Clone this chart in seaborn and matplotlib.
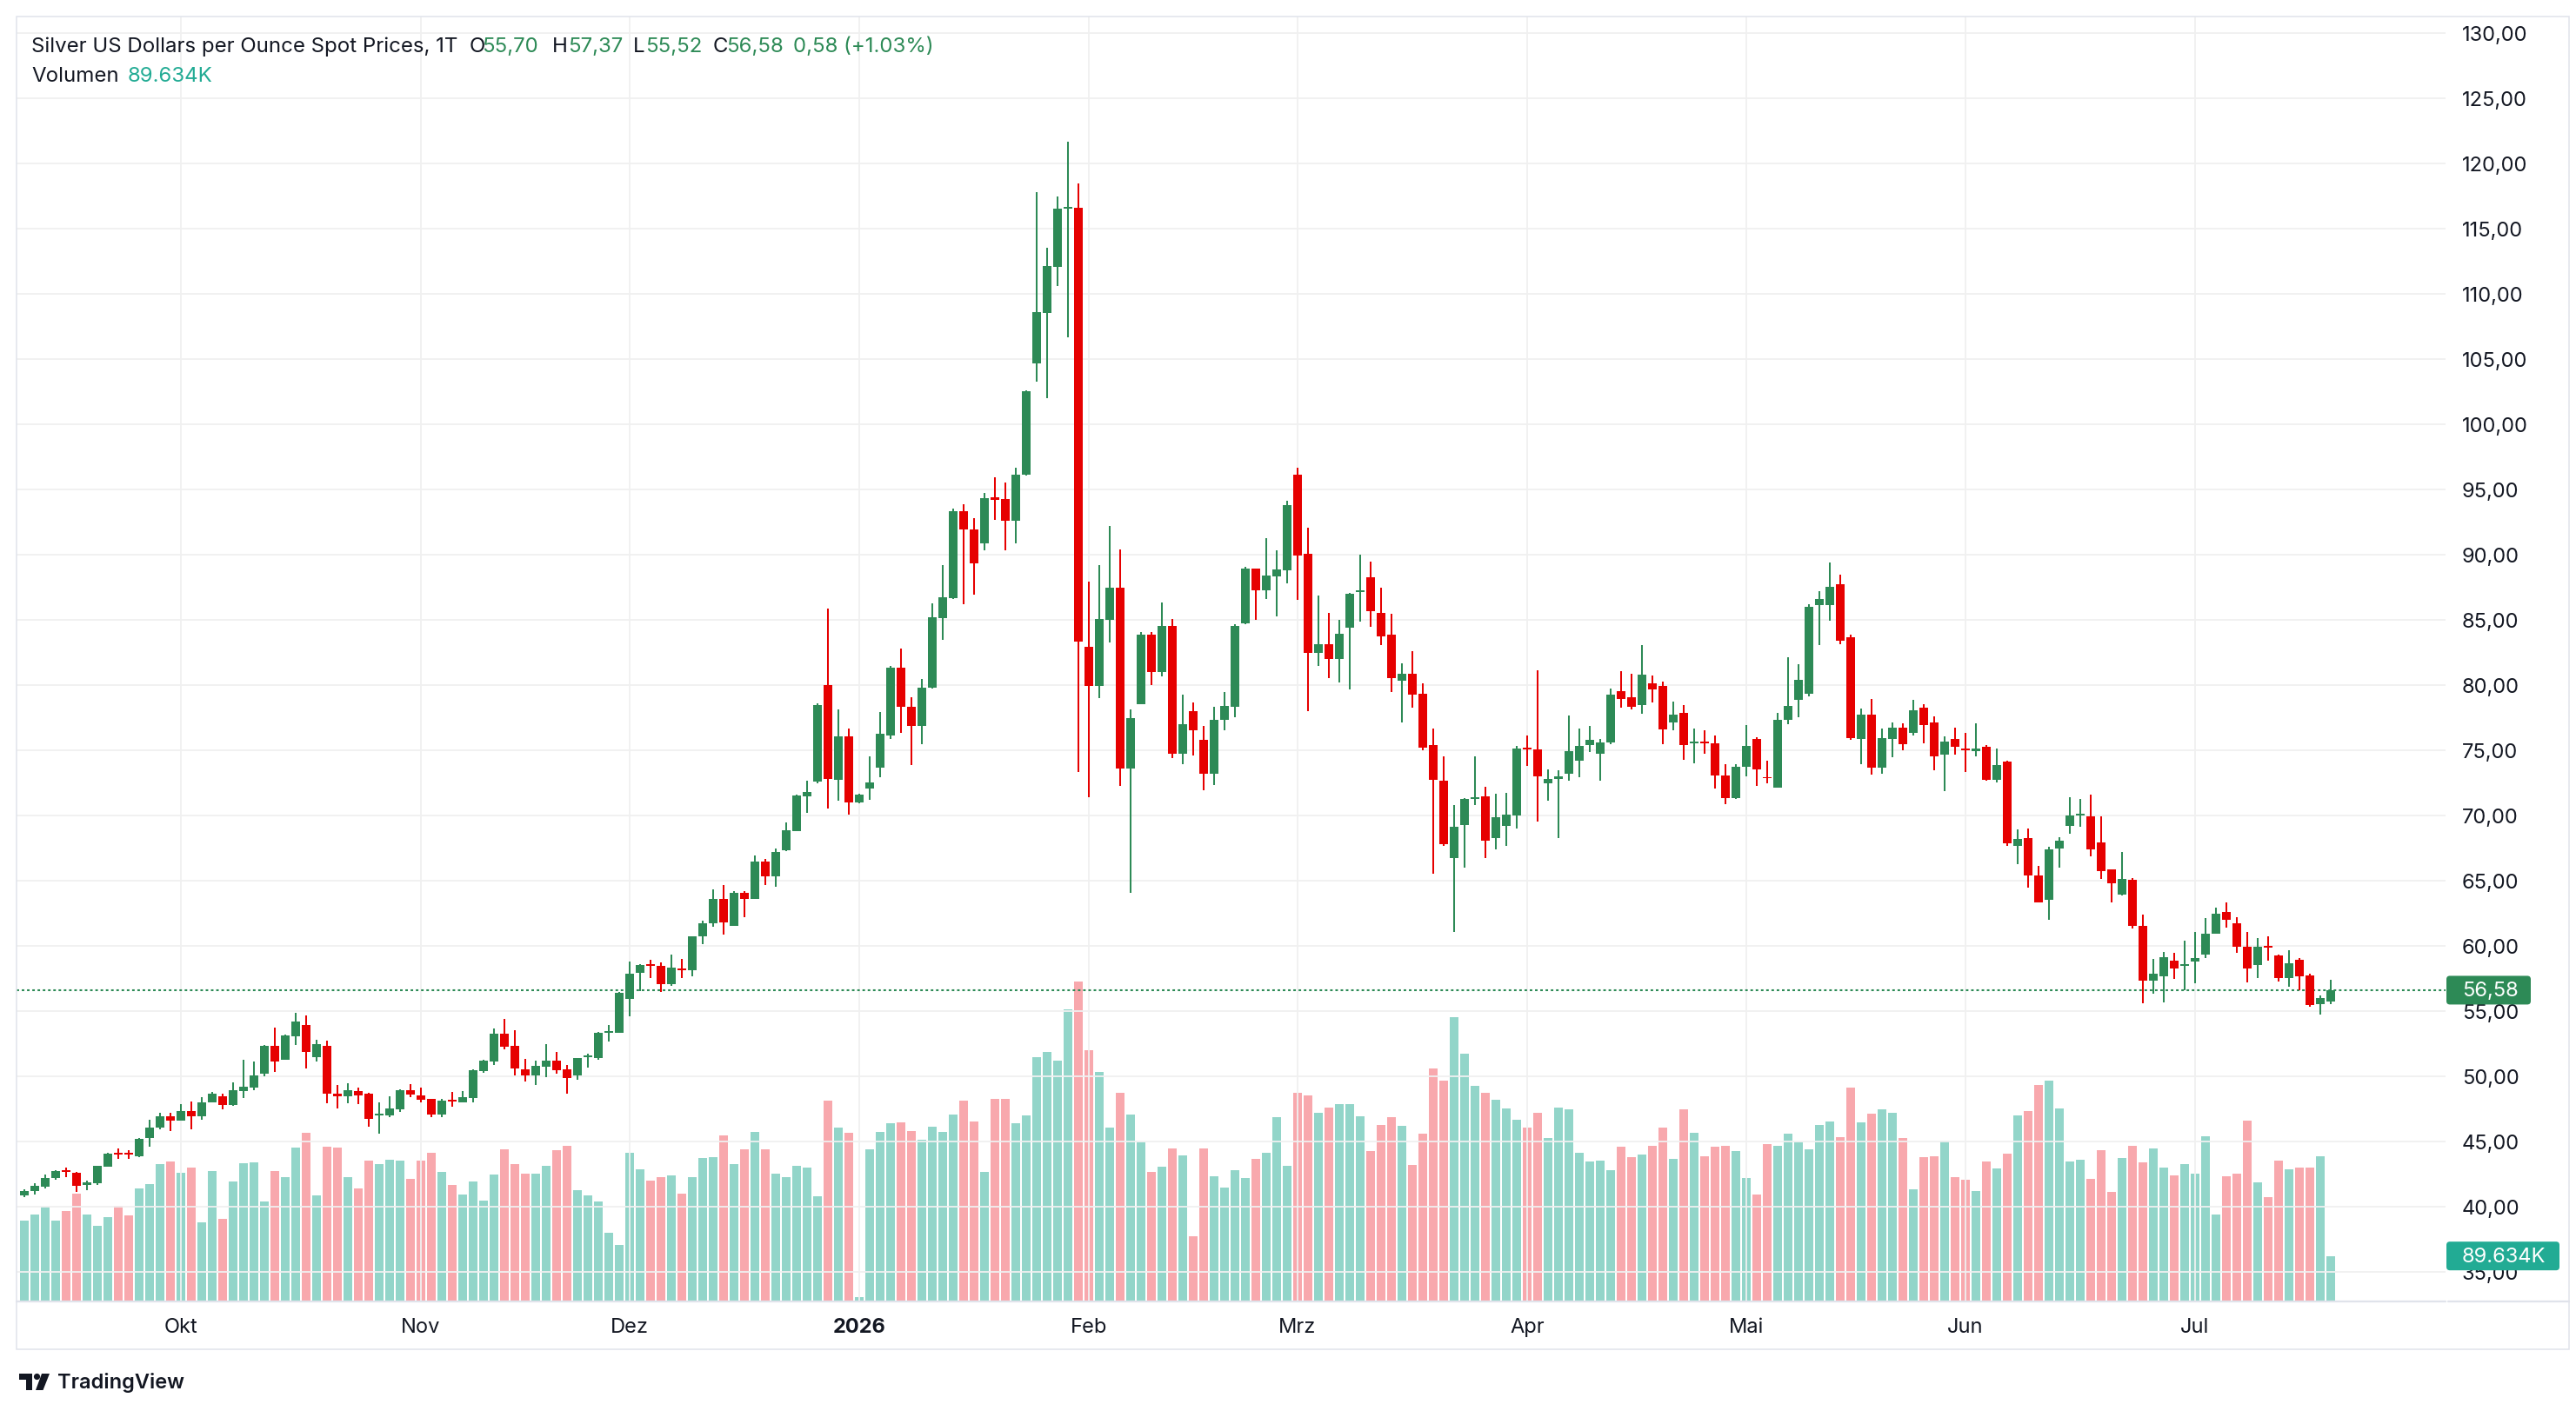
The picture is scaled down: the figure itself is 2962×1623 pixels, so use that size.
import numpy as np
import pandas as pd
import matplotlib
matplotlib.use("Agg")
import matplotlib.pyplot as plt
from matplotlib.patches import FancyBboxPatch, Rectangle, Polygon, Circle
import seaborn as sns

# daily OHLC, silver spot, one bar per trading day (mid Sep 2025 .. mid Jul 2026)
opens = [
    40.84, 41.20, 41.53, 42.20, 42.78, 42.58, 41.67, 41.78, 43.04, 44.11,
    44.11, 43.84, 45.24, 46.04, 46.91, 46.58, 47.31, 46.91, 47.98, 48.44,
    47.78, 48.84, 49.11, 50.18, 52.31, 51.24, 53.04, 53.91, 51.44, 52.31,
    48.64, 48.44, 48.84, 48.64, 46.98, 46.98, 47.44, 48.91, 48.51, 48.24,
    47.04, 48.18, 47.98, 48.31, 50.38, 51.11, 53.24, 52.31, 50.51, 50.04,
    50.71, 51.18, 50.51, 50.04, 51.44, 51.38, 53.31, 53.31, 55.94, 57.88,
    58.59, 58.46, 57.01, 58.26, 58.08, 60.69, 61.70, 63.55, 61.50, 64.02,
    63.55, 66.43, 65.29, 67.30, 68.79, 71.45, 72.59, 79.96, 72.72, 76.07,
    70.98, 72.05, 73.66, 76.14, 81.29, 78.28, 76.81, 79.79, 85.14, 86.63,
    93.30, 91.91, 90.82, 94.40, 94.22, 92.55, 96.10, 104.61, 108.51, 112.06,
    116.52, 116.60, 82.94, 79.89, 85.00, 87.45, 73.55, 78.51, 83.83, 80.96,
    84.50, 74.68, 78.00, 75.79, 73.19, 77.28, 78.34, 84.70, 88.91, 87.25,
    88.32, 88.79, 96.14, 90.05, 82.43, 83.14, 81.96, 84.38, 87.13, 88.24,
    85.54, 83.81, 80.30, 80.87, 79.33, 75.40, 72.65, 66.71, 69.26, 71.26,
    71.45, 68.26, 69.20, 70.00, 75.20, 75.07, 72.41, 72.75, 73.15, 74.15,
    75.36, 74.69, 75.56, 79.49, 79.02, 78.44, 80.09, 79.89, 77.10, 77.81,
    75.51, 75.60, 75.54, 73.06, 71.29, 73.68, 75.87, 72.92, 72.14, 77.30,
    78.84, 79.29, 86.10, 86.10, 87.71, 83.63, 75.84, 77.68, 73.63, 75.84,
    76.68, 76.30, 78.22, 77.08, 74.63, 75.81, 75.08, 74.90, 75.23, 72.70,
    74.10, 67.62, 68.26, 65.39, 63.54, 67.42, 69.15, 69.96, 69.93, 67.88,
    65.84, 63.91, 65.03, 61.54, 57.34, 57.61, 58.86, 58.43, 58.75, 59.28,
    60.89, 62.55, 61.74, 59.93, 58.48, 60.00, 59.26, 57.54, 58.93, 57.72,
    55.53, 55.70,
]
highs = [
    41.31, 41.78, 42.44, 42.78, 42.98, 42.64, 41.98, 43.11, 44.11, 44.44,
    44.31, 45.24, 46.64, 47.18, 47.18, 47.84, 48.04, 48.38, 48.78, 48.64,
    49.51, 51.24, 51.11, 52.38, 53.71, 53.18, 54.84, 54.64, 52.78, 52.71,
    49.31, 49.44, 49.11, 48.71, 47.98, 48.44, 48.98, 49.38, 49.11, 48.24,
    48.24, 48.78, 48.84, 50.51, 51.24, 53.64, 54.38, 53.51, 51.31, 51.18,
    52.44, 51.84, 50.84, 51.38, 51.71, 53.38, 53.91, 56.47, 58.79, 58.59,
    58.93, 58.73, 59.33, 59.00, 60.74, 61.94, 64.29, 64.62, 64.15, 64.15,
    66.90, 66.63, 67.43, 69.44, 71.58, 72.66, 78.55, 85.85, 78.08, 76.67,
    71.65, 74.53, 77.88, 81.43, 82.77, 79.02, 80.46, 86.24, 89.15, 93.48,
    93.87, 92.80, 94.68, 95.89, 95.53, 96.63, 102.59, 117.80, 113.51, 117.45,
    121.67, 118.44, 87.91, 89.18, 92.20, 90.39, 78.12, 84.04, 84.07, 86.31,
    85.04, 79.26, 78.66, 76.86, 78.32, 79.46, 84.63, 89.03, 88.91, 91.24,
    90.30, 94.11, 96.61, 92.05, 86.83, 85.54, 84.95, 87.03, 89.98, 89.43,
    87.43, 85.42, 81.63, 82.55, 80.12, 76.66, 74.50, 70.77, 71.31, 74.50,
    72.19, 71.65, 71.72, 75.33, 76.14, 81.09, 73.53, 73.46, 77.61, 76.61,
    76.81, 75.87, 79.69, 81.03, 80.83, 83.04, 80.69, 80.22, 78.68, 78.42,
    76.67, 76.54, 76.14, 73.93, 73.93, 76.94, 76.00, 74.20, 77.81, 82.10,
    81.56, 86.17, 87.17, 89.38, 88.44, 83.83, 78.15, 78.89, 76.61, 77.08,
    77.02, 78.82, 78.49, 77.55, 76.01, 76.68, 76.28, 77.02, 75.37, 75.10,
    74.16, 68.93, 69.00, 66.12, 67.59, 68.33, 71.36, 71.23, 71.56, 69.89,
    65.84, 67.18, 65.17, 62.35, 58.99, 59.53, 59.46, 60.40, 61.01, 62.08,
    62.89, 63.29, 62.15, 61.01, 60.60, 60.74, 59.33, 59.66, 59.06, 57.85,
    56.20, 57.37,
]
lows = [
    40.71, 40.91, 41.38, 42.04, 42.24, 41.11, 41.24, 41.64, 43.04, 43.64,
    43.64, 43.78, 44.58, 45.91, 45.78, 46.58, 45.91, 46.64, 47.98, 47.44,
    47.71, 48.31, 48.91, 49.98, 50.31, 51.24, 52.38, 50.58, 51.11, 47.91,
    47.51, 47.91, 47.84, 46.11, 45.58, 46.84, 47.24, 48.38, 47.98, 46.84,
    46.84, 47.64, 47.98, 47.98, 50.24, 50.84, 52.04, 50.04, 49.58, 49.31,
    49.91, 50.18, 48.64, 49.71, 50.64, 51.24, 52.67, 53.31, 54.60, 56.52,
    57.54, 56.47, 56.88, 57.48, 57.61, 60.09, 61.43, 60.83, 61.50, 62.17,
    63.55, 64.62, 64.49, 67.23, 68.79, 70.18, 72.46, 70.51, 71.12, 70.04,
    70.92, 71.18, 72.92, 75.87, 76.34, 73.86, 75.46, 79.72, 83.44, 86.56,
    86.20, 86.88, 90.32, 92.62, 90.32, 90.82, 96.03, 103.26, 101.95, 110.60,
    106.63, 73.33, 71.38, 78.97, 83.26, 72.27, 64.07, 78.51, 79.96, 80.64,
    74.40, 73.94, 74.60, 71.93, 72.33, 76.49, 77.48, 84.65, 84.98, 86.56,
    85.25, 87.80, 86.51, 77.95, 81.44, 80.50, 80.15, 79.63, 84.85, 84.43,
    83.04, 79.43, 77.08, 78.22, 75.00, 65.50, 67.65, 61.01, 65.97, 70.77,
    66.70, 67.39, 67.66, 69.00, 73.75, 69.53, 71.14, 68.26, 72.61, 72.88,
    74.82, 72.61, 75.42, 78.24, 78.10, 77.77, 78.64, 75.42, 76.50, 74.22,
    73.95, 74.69, 72.01, 70.87, 71.23, 72.95, 72.21, 72.41, 72.14, 76.96,
    77.51, 79.11, 83.03, 84.90, 83.12, 75.77, 73.90, 73.10, 73.16, 74.43,
    74.97, 76.10, 75.50, 73.43, 71.83, 74.63, 73.30, 74.50, 72.63, 72.49,
    67.62, 66.21, 64.41, 63.34, 61.98, 65.95, 68.55, 69.09, 66.82, 65.08,
    63.31, 63.85, 61.30, 55.59, 56.33, 55.66, 57.41, 56.60, 57.14, 59.02,
    60.89, 61.36, 59.42, 57.20, 57.54, 58.81, 57.27, 56.87, 56.60, 55.32,
    54.72, 55.52,
]
closes = [
    41.18, 41.58, 42.18, 42.71, 42.67, 41.58, 41.84, 43.11, 44.04, 43.98,
    43.98, 45.18, 46.04, 46.91, 46.58, 47.31, 46.91, 47.98, 48.64, 47.78,
    48.91, 49.18, 50.04, 52.31, 51.11, 53.11, 54.18, 51.84, 52.44, 48.64,
    48.44, 48.91, 48.51, 46.71, 47.11, 47.51, 48.91, 48.58, 48.18, 47.04,
    48.11, 48.04, 48.38, 50.44, 51.18, 53.24, 52.24, 50.58, 50.04, 50.78,
    51.18, 50.44, 49.84, 51.38, 51.58, 53.31, 53.40, 56.36, 57.86, 58.53,
    58.46, 57.01, 58.33, 58.08, 60.74, 61.74, 63.55, 61.76, 64.02, 63.55,
    66.43, 65.29, 67.17, 68.84, 71.52, 71.79, 78.42, 72.79, 76.07, 70.98,
    71.58, 72.52, 76.21, 81.29, 78.28, 76.81, 79.79, 85.18, 86.70, 93.30,
    91.88, 89.29, 94.33, 94.18, 92.55, 96.13, 102.52, 108.55, 112.09, 116.52,
    116.60, 83.33, 79.89, 85.04, 87.45, 73.55, 77.45, 83.83, 80.96, 84.50,
    74.68, 76.98, 76.49, 73.19, 77.33, 78.39, 84.48, 88.91, 87.25, 88.37,
    88.84, 93.79, 89.93, 82.43, 83.14, 81.96, 83.89, 86.96, 87.25, 85.64,
    83.71, 80.50, 80.87, 79.23, 75.20, 72.72, 67.77, 69.08, 71.26, 71.31,
    68.06, 69.84, 70.04, 75.13, 75.04, 72.95, 72.77, 72.97, 74.93, 75.33,
    75.80, 75.60, 79.22, 78.91, 78.30, 80.76, 79.64, 76.56, 77.68, 75.36,
    75.67, 75.49, 73.01, 71.29, 73.73, 75.33, 73.48, 72.81, 77.34, 78.35,
    80.36, 85.97, 86.57, 87.51, 83.39, 75.90, 77.68, 73.63, 75.90, 76.68,
    75.43, 78.02, 76.90, 74.50, 75.61, 75.23, 74.97, 75.14, 72.70, 73.85,
    67.82, 68.20, 65.35, 63.34, 67.39, 68.06, 70.00, 70.07, 67.35, 65.68,
    64.79, 65.10, 61.50, 57.34, 57.85, 59.13, 58.21, 58.55, 59.06, 60.94,
    62.42, 61.97, 59.89, 58.21, 59.93, 59.82, 57.54, 58.66, 57.67, 55.46,
    56.00, 56.58,
]
# volume in thousands
volume_k = [
    159.9, 171.8, 187.3, 159.9, 178.7, 212.9, 171.8, 149.6, 166.7, 189.0,
    170.1, 223.2, 231.8, 271.2, 276.3, 254.1, 264.3, 156.4, 257.5, 163.3,
    236.9, 272.9, 274.6, 197.5, 257.5, 245.5, 303.7, 332.8, 209.5, 305.4,
    303.7, 245.5, 223.2, 278.0, 271.2, 279.7, 278.0, 242.1, 278.0, 293.4,
    255.8, 230.1, 211.2, 236.9, 199.2, 250.6, 300.3, 271.2, 252.3, 252.3,
    267.8, 298.6, 307.1, 219.8, 209.5, 197.5, 135.9, 111.9, 293.4, 260.9,
    238.6, 245.5, 248.9, 212.9, 245.5, 283.2, 284.9, 327.7, 271.2, 300.3,
    334.5, 300.3, 252.3, 245.5, 267.8, 264.3, 207.8, 396.2, 343.1, 332.8,
    9.1, 300.3, 334.5, 351.7, 353.4, 336.3, 319.1, 344.8, 334.5, 368.8,
    396.2, 355.1, 255.8, 399.6, 399.6, 351.7, 367.1, 481.8, 492.1, 475.0,
    576.0, 630.8, 495.5, 452.7, 343.1, 411.6, 368.8, 314.0, 255.8, 266.0,
    302.0, 288.3, 129.0, 302.0, 247.2, 224.9, 259.2, 243.8, 281.5, 293.4,
    363.7, 267.8, 411.6, 406.5, 372.2, 382.5, 389.4, 389.4, 365.4, 296.9,
    348.2, 363.7, 346.5, 269.5, 331.1, 459.6, 435.6, 560.6, 488.7, 425.3,
    411.6, 397.9, 380.8, 358.5, 343.1, 372.2, 322.6, 382.5, 379.1, 293.4,
    276.3, 278.0, 259.2, 305.4, 284.9, 290.0, 307.1, 343.1, 281.5, 379.1,
    332.8, 286.6, 305.4, 307.1, 296.9, 243.8, 211.2, 310.6, 307.1, 331.1,
    314.0, 300.3, 348.2, 355.1, 324.3, 421.9, 353.4, 370.5, 379.1, 372.2,
    322.6, 221.5, 284.9, 286.6, 317.4, 245.5, 240.3, 218.1, 276.3, 262.6,
    291.7, 367.1, 375.7, 427.0, 435.6, 380.8, 276.3, 279.7, 242.1, 298.6,
    216.4, 283.2, 307.1, 274.6, 302.0, 264.3, 248.9, 271.2, 252.3, 326.0,
    171.8, 247.2, 252.3, 356.8, 235.2, 206.1, 278.0, 260.9, 264.3, 264.3,
    286.6, 89.634,
]

month_ticks = [15, 38, 58, 80, 102, 122, 144, 165, 186, 208]
month_labels = ["Okt", "Nov", "Dez", "2026", "Feb", "Mrz", "Apr", "Mai", "Jun", "Jul"]
price_ticks = list(range(35, 131, 5))

title = "Silver US Dollars per Ounce Spot Prices, 1T"
change_text = "0,58 (+1.03%)"

UP = "#2d8a56"
DOWN = "#e60000"
VOL_UP = "#92d5c9"
VOL_DOWN = "#f8a8ad"
TEAL = "#22ab94"
GRID = "#f0f0f0"
TEXT = "#131722"
FRAME = "#e0e3eb"

sns.set_style("white")
plt.rcParams["font.family"] = ["Inter", "DejaVu Sans"]

W, H = 2962, 1624
fig = plt.figure(figsize=(W / 100, H / 100), dpi=100)


def px_rect(x0, y0, x1, y1):
    return [x0 / W, 1 - y1 / H, (x1 - x0) / W, (y1 - y0) / H]


plot_rect = px_rect(19, 20, 2812, 1498)
ax_v = fig.add_axes(plot_rect)
ax_p = fig.add_axes(plot_rect, sharex=ax_v)
ax_p.patch.set_visible(False)

df = pd.DataFrame({
    "bar": np.arange(len(closes)),
    "open": opens, "high": highs, "low": lows, "close": closes,
    "volume": volume_k,
})
df["dir"] = np.where(df["close"] >= df["open"], "up", "down")

# volume pane
sns.barplot(data=df, x="bar", y="volume", hue="dir",
            palette={"up": VOL_UP, "down": VOL_DOWN},
            native_scale=True, width=0.86, dodge=False, saturation=1,
            errorbar=None, legend=False, linewidth=0, ax=ax_v)
ax_v.set_ylim(0, 2532)
ax_v.set_xlabel("")
ax_v.set_ylabel("")
ax_v.tick_params(left=False, labelleft=False, bottom=False, labelbottom=False)

# candles
col = np.where(df["dir"] == "up", UP, DOWN)
ax_p.vlines(df["bar"], df["low"], df["high"], colors=col, linewidth=1.45, zorder=2)
body_lo = np.minimum(df["open"], df["close"])
body_h = np.maximum((df["close"] - df["open"]).abs(), 0.13)
ax_p.bar(df["bar"], body_h, bottom=body_lo, width=0.83, color=col, linewidth=0, zorder=3)

ax_p.axhline(closes[-1], color=UP, lw=1.5, ls=(0, (1.4, 1.5)), zorder=1)

ax_p.set_xlim(-0.725, 232.0)
ax_p.set_ylim(32.71, 131.24)
ax_p.grid(True, color=GRID, lw=1.3)
ax_p.set_axisbelow(True)

ax_p.yaxis.tick_right()
ax_p.set_yticks(price_ticks)
ax_p.set_yticklabels([f"{v:.2f}".replace(".", ",") for v in price_ticks])
ax_p.tick_params(axis="y", length=0, pad=13.5, labelsize=17, labelcolor=TEXT)
ax_p.set_xticks(month_ticks)
ax_p.set_xticklabels(month_labels)
ax_p.tick_params(axis="x", length=0, pad=13, labelsize=17, labelcolor=TEXT)
for lbl in ax_p.get_xticklabels():
    if lbl.get_text() == "2026":
        lbl.set_fontweight("bold")

for a in (ax_v, ax_p):
    for s in a.spines.values():
        s.set_visible(False)

# overlay in pixel coordinates (y down) for frame, header and axis boxes
ov = fig.add_axes([0, 0, 1, 1])
ov.set_xlim(0, W)
ov.set_ylim(H, 0)
ov.axis("off")
ov.patch.set_visible(False)

ov.add_patch(Rectangle((19, 20), 2954 - 19, 1553 - 20, fill=False, edgecolor=FRAME, lw=1.1))
ov.plot([19, 2812], [1498, 1498], color=FRAME, lw=1.6)
ov.plot([2815, 2954], [1498, 1498], color=FRAME, lw=1.6)

fs = 17.3
y1, y2 = 54, 88
ov.text(36, y1, title, color=TEXT, fontsize=fs, va="center", ha="left")
header = [(540, "O", TEXT), (554, f"{opens[-1]:.2f}".replace(".", ","), UP),
          (635, "H", TEXT), (653, f"{highs[-1]:.2f}".replace(".", ","), UP),
          (728, "L", TEXT), (742, f"{lows[-1]:.2f}".replace(".", ","), UP),
          (820, "C", TEXT), (835, f"{closes[-1]:.2f}".replace(".", ","), UP),
          (912, change_text, UP)]
for x, s, c in header:
    ov.text(x, y1, s, color=c, fontsize=fs, va="center", ha="left")
ov.text(36, y2, "Volumen", color=TEXT, fontsize=fs, va="center", ha="left")
ov.text(147, y2, f"{volume_k[-1]:.3f}K", color=TEAL, fontsize=fs, va="center", ha="left")

# last value boxes on the price scale
y_close = H - ax_p.transData.transform((0, closes[-1]))[1]
ov.add_patch(FancyBboxPatch((2813, y_close - 16.5), 97, 33,
                            boxstyle="round,pad=0,rounding_size=4", fc=UP, ec="none"))
ov.text(2831, y_close, f"{closes[-1]:.2f}".replace(".", ","), color="white",
        fontsize=17, va="center", ha="left")
y_vol = H - ax_v.transData.transform((0, volume_k[-1]))[1]
ov.add_patch(FancyBboxPatch((2813, y_vol - 16.5), 130, 33,
                            boxstyle="round,pad=0,rounding_size=4", fc=TEAL, ec="none"))
ov.text(2831, y_vol, f"{volume_k[-1]:.3f}K", color="white",
        fontsize=17, va="center", ha="left")

# TradingView logo
ov.add_patch(Polygon([(22, 1581), (37, 1581), (37, 1600), (30, 1600), (30, 1588), (22, 1588)],
                     closed=True, fc=TEXT, ec="none"))
ov.add_patch(Circle((42.5, 1584.5), 3.6, fc=TEXT, ec="none"))
ov.add_patch(Polygon([(48, 1581), (57, 1581), (49.5, 1600), (41, 1600)],
                     closed=True, fc=TEXT, ec="none"))
ov.text(66, 1591, "TradingView", color=TEXT, fontsize=17, fontweight="semibold",
        va="center", ha="left")

fig.savefig("out.png", dpi=100, facecolor="white")
